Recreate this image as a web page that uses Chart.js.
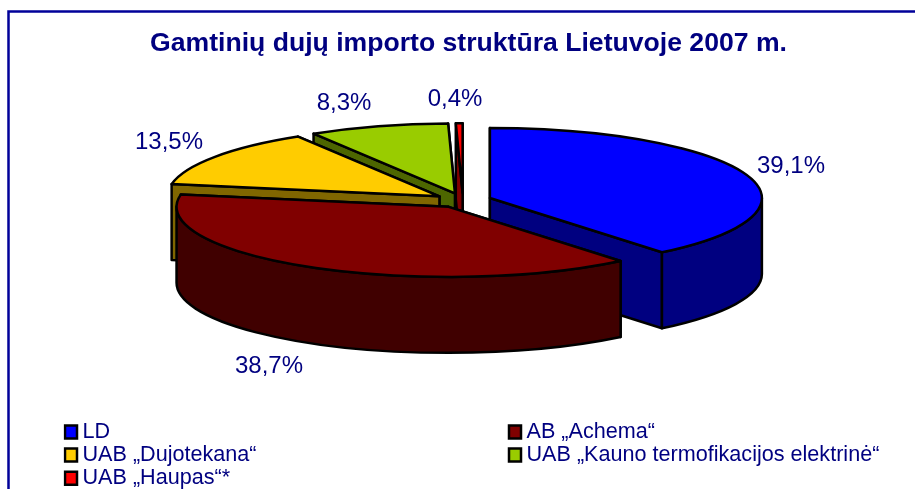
<!DOCTYPE html>
<html>
<head>
<meta charset="utf-8">
<style>html,body{margin:0;padding:0;background:#fff;overflow:hidden}#w{width:915px;height:489px;position:relative}</style>
<script src="https://cdn.jsdelivr.net/npm/chart.js@4/dist/chart.umd.min.js"></script>
</head>
<body>
<div id="w"><canvas id="c" width="915" height="489"></canvas></div>
<script>
const TITLE = 'Gamtinių dujų importo struktūra Lietuvoje 2007 m.';
const categories = ['LD', 'AB „Achema“', 'UAB „Dujotekana“', 'UAB „Kauno termofikacijos elektrinė“', 'UAB „Haupas“*'];
const shares = [39.1, 38.7, 13.5, 8.3, 0.4];
const topColors = ['#0000FF', '#800000', '#FFCC00', '#99CC00', '#FF0000'];
const sideColors = ['#000080', '#400000', '#806600', '#4D6600', '#800000'];
const labelX = [791, 269, 169, 344, 455];
const labelY = [166, 366, 142, 103, 99];
const legendOrder = [0, 2, 4, 1, 3];
const paintOrder = [4, 3, 2, 0, 1];

const NAVY = '#000080';
const FONT = "'Liberation Sans', Arial, sans-serif";
const BASE_R = 100, EXPLODE = 42;
const CX = 463, CY = 200.5, RX = 272, RY = 70, DEPTH = 76;
const LEGEND_TEXT_SHIFT = 5.3;

const pie3d = {
  id: 'pie3d',
  afterLayout(chart) {
    chart.titleBlock.left = 22; chart.titleBlock.right = 915;
    const lg = chart.legend;
    lg.left = 63.5; lg.right = 915; lg.top = 419.7; lg.bottom = 496;
    lg.columnSizes = [{width: 442.5, height: 0}, {width: 400, height: 0}, {width: 400, height: 0}];
    if (!lg.__wrapped) {
      lg.__wrapped = true;
      const draw = lg.draw.bind(lg);
      lg.draw = function () {
        const c = lg.ctx, ft = c.fillText;
        c.fillText = function (t, x, y, m) {
          return m === undefined ? ft.call(c, t, x - LEGEND_TEXT_SHIFT, y) : ft.call(c, t, x - LEGEND_TEXT_SHIFT, y, m);
        };
        draw();
        delete c.fillText;
      };
    }
  },
  beforeDraw(chart) {
    const c = chart.ctx;
    c.save();
    c.fillStyle = '#fff'; c.fillRect(0, 0, 915, 489);
    c.strokeStyle = '#000099'; c.lineWidth = 2.5;
    c.strokeRect(8.5, 11.5, 1000, 600);
    c.restore();
  },
  beforeDatasetsDraw(chart) {
    const c = chart.ctx;
    const meta = chart.getDatasetMeta(0);
    const sx = RX / BASE_R, sy = RY / BASE_R;
    paintOrder.forEach(i => {
      const arc = meta.data[i];
      const off = arc.options.offset / 4;
      const a0 = arc.startAngle, a1 = arc.endAngle, mid = (a0 + a1) / 2;
      const ox = CX + Math.cos(mid) * off * sx, oy = CY + Math.sin(mid) * off * sy;
      const rim = a => [ox + RX * Math.cos(a), oy + RY * Math.sin(a)];
      c.save();
      c.lineWidth = 2.5; c.strokeStyle = '#000'; c.lineJoin = 'round';
      c.fillStyle = sideColors[i];
      [a0, a1].slice().sort((p, q) => rim(p)[1] - rim(q)[1]).forEach(a => {
        const [rx, ry] = rim(a);
        c.beginPath();
        c.moveTo(ox, oy); c.lineTo(rx, ry); c.lineTo(rx, ry + DEPTH); c.lineTo(ox, oy + DEPTH);
        c.closePath(); c.fill(); c.stroke();
      });
      const segs = [];
      for (const k of [-2, 0, 2]) {
        const lo = Math.max(a0, k * Math.PI), hi = Math.min(a1, k * Math.PI + Math.PI);
        if (hi > lo) segs.push([lo, hi]);
      }
      segs.forEach(([lo, hi]) => {
        c.beginPath();
        c.ellipse(ox, oy, RX, RY, 0, lo, hi);
        c.ellipse(ox, oy + DEPTH, RX, RY, 0, hi, lo, true);
        c.closePath(); c.fill(); c.stroke();
      });
      c.save();
      c.translate(CX, CY); c.scale(sx, sy); c.translate(-arc.x, -arc.y);
      const keep = arc.outerRadius;
      const fix = 1 - Math.sin(Math.min(Math.PI, arc.circumference));
      arc.outerRadius = keep - off * fix;
      arc.draw(c);
      arc.outerRadius = keep;
      c.restore();
      c.beginPath();
      c.moveTo(ox, oy);
      c.ellipse(ox, oy, RX, RY, 0, a0, a1);
      c.closePath();
      c.fillStyle = arc.options.backgroundColor;
      c.fill(); c.stroke();
      c.restore();
    });
    c.save();
    c.fillStyle = NAVY; c.font = '24px ' + FONT;
    c.textAlign = 'center'; c.textBaseline = 'middle';
    shares.forEach((v, i) => c.fillText(v.toFixed(1).replace('.', ',') + '%', labelX[i], labelY[i]));
    c.restore();
    return false;
  }
};

new Chart(document.getElementById('c'), {
  type: 'pie',
  plugins: [pie3d],
  data: {
    labels: categories,
    datasets: [{
      data: shares,
      backgroundColor: topColors,
      borderWidth: 0,
      offset: EXPLODE
    }]
  },
  options: {
    responsive: false,
    animation: false,
    events: [],
    radius: BASE_R,
    plugins: {
      tooltip: {enabled: false},
      title: {
        display: true, text: TITLE, color: NAVY,
        font: {family: FONT, size: 26.6, weight: 'bold'},
        padding: {top: 28, bottom: 10}
      },
      legend: {
        display: true, position: 'chartArea', align: 'start',
        labels: {
          color: NAVY, boxWidth: 12, boxHeight: 13, padding: 1.5,
          font: {family: FONT, size: 21.6},
          sort: (a, b) => legendOrder.indexOf(a.index) - legendOrder.indexOf(b.index),
          generateLabels(chart) {
            return Chart.overrides.pie.plugins.legend.labels.generateLabels(chart)
              .map(it => Object.assign(it, {strokeStyle: '#000', lineWidth: 2.5}));
          }
        }
      }
    }
  }
});
</script>
</body>
</html>
